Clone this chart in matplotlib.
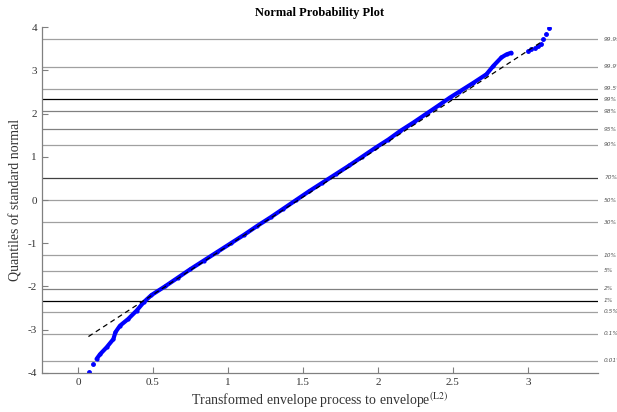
import matplotlib
matplotlib.use("Agg")
import matplotlib.pyplot as plt

plt.rcParams['font.family'] = ['Liberation Serif', 'DejaVu Serif']
plt.rcParams['mathtext.fontset'] = 'stix'
plt.rcParams['axes.unicode_minus'] = False

# sorted data (x) against normal quantiles (z)
z_core = [-3.68, -3.57, -3.41, -3.22, -3.06, -2.91, -2.75, -2.56, -2.36, -2.2,
          -2.0, -1.8, -1.6, -1.4, -1.2, -1.0, -0.8, -0.6, -0.4, -0.2, 0.0,
          0.2, 0.4, 0.6, 0.8, 1.0, 1.2, 1.4, 1.6, 1.8, 2.0, 2.2, 2.37, 2.5,
          2.71, 2.91, 3.10, 3.30, 3.37, 3.41]
x_core = [0.124, 0.147, 0.191, 0.236, 0.250, 0.280, 0.336, 0.391, 0.440, 0.49,
          0.58, 0.665, 0.75, 0.84, 0.93, 1.02, 1.11, 1.195, 1.285, 1.37, 1.455,
          1.54, 1.63, 1.72, 1.81, 1.895, 1.98, 2.07, 2.15, 2.24, 2.325, 2.41, 2.48, 2.54,
          2.636, 2.724, 2.769, 2.824, 2.858, 2.89]
# isolated tail points
z_tail = [-3.99, -3.80, 3.45, 3.49, 3.52, 3.57, 3.62, 3.72, 3.84, 3.97]
x_tail = [0.076, 0.098, 3.00, 3.02, 3.05, 3.07, 3.09, 3.10, 3.12, 3.14]

# reference line end points
ref_x = [0.07, 3.10]
ref_z = [-3.16, 3.68]

# probability grid
prob_labels = ['0.01%', '0.1%', '0.5%', '1%', '2%', '5%', '10%', '30%', '50%',
               '70%', '90%', '95%', '98%', '99%', '99.5%', '99.9%', '99.99%']
prob_z = [-3.72, -3.09, -2.58, -2.33, -2.05, -1.64, -1.28, -0.52, 0.0,
          0.52, 1.28, 1.64, 2.05, 2.33, 2.58, 3.09, 3.72]
prob_colors = ['#a0a0a0', '#a0a0a0', '#a0a0a0', 'black', '#808080', '#a0a0a0',
               '#a0a0a0', '#a0a0a0', '#a0a0a0', '#404040', '#a0a0a0', '#808080',
               '#808080', 'black', '#a0a0a0', '#a0a0a0', '#a0a0a0']

fig = plt.figure(figsize=(6.17, 4.12), dpi=100)
ax = fig.add_axes([0.068, 0.095, 0.901, 0.839])

for zq, lab, c in zip(prob_z, prob_labels, prob_colors):
    ax.axhline(zq, color=c, linewidth=0.9, zorder=1)
    ax.text(1.011, zq, lab, transform=ax.get_yaxis_transform(), fontsize=4.2,
            style='italic', color='#555555', va='center', ha='left',
            family='DejaVu Sans')

ax.plot(ref_x, ref_z, color='black', linestyle=(0, (4, 3)), linewidth=0.9, zorder=3)
ax.plot(x_core, z_core, color='#0000ff', linewidth=3.0, marker='.',
        markersize=4, zorder=2, solid_capstyle='round')
ax.plot(x_tail, z_tail, color='#0000ff', linestyle='none', marker='.',
        markersize=5, zorder=2)

ax.set_xlim(-0.24, 3.467)
ax.set_ylim(-4, 4)
ax.set_xticks([0, 0.5, 1, 1.5, 2, 2.5, 3])
ax.set_xticklabels(['0', '0.5', '1', '1.5', '2', '2.5', '3'])
ax.set_yticks([-4, -3, -2, -1, 0, 1, 2, 3, 4])
ax.tick_params(direction='in', length=4, width=0.8, color='#808080',
               labelsize=8, labelcolor='#333333')
for s in ['top', 'right']:
    ax.spines[s].set_visible(False)
for s in ['left', 'bottom']:
    ax.spines[s].set_color('#808080')
    ax.spines[s].set_linewidth(0.9)

ax.set_title('Normal Probability Plot', fontsize=9, fontweight='bold', pad=8)
ax.set_xlabel(r'Transformed envelope process to envelope$^{\mathrm{(L2)}}$',
              fontsize=10, labelpad=3, color='#333333')
ax.set_ylabel('Quantiles of standard normal', fontsize=10, labelpad=4,
              color='#333333')

fig.savefig('out.png', dpi=100)
